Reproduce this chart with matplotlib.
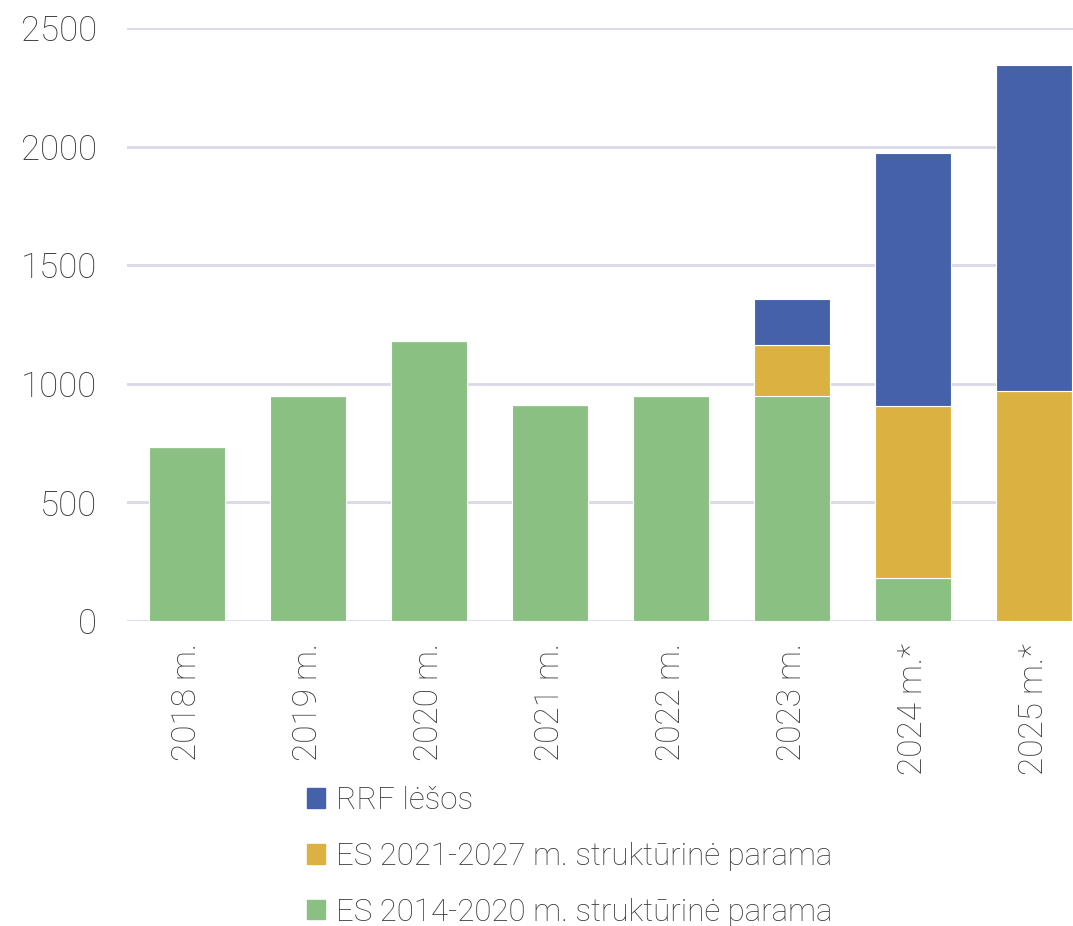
import numpy as np
import matplotlib.pyplot as plt
from matplotlib.patches import Patch

years = ['2018 m.', '2019 m.', '2020 m.', '2021 m.', '2022 m.', '2023 m.', '2024 m.*', '2025 m.*']
es_2014 = [735, 950, 1180, 910, 950, 950, 180, 0]
es_2021 = [0, 0, 0, 0, 0, 213, 725, 970]
rrf = [0, 0, 0, 0, 0, 195, 1068, 1375]

series_names = ['ES 2014-2020 m. struktūrinė parama', 'ES 2021-2027 m. struktūrinė parama', 'RRF lėšos']
colors = ['#8ac081', '#dbb142', '#4561a9']

plt.rcParams['font.family'] = ['Roboto', 'DejaVu Sans']
plt.rcParams['font.weight'] = 'light'
text_color = '#3a3a3a'

fig = plt.figure(figsize=(10.73, 9.26), dpi=100)
W, H = 1073, 926
ax = fig.add_axes([126.5 / W, (H - 621) / H, 968 / W, 593 / H])

x = np.arange(len(years))
bottom = np.zeros(len(years))
for vals, col, name in zip([es_2014, es_2021, rrf], colors, series_names):
    vals = np.array(vals, dtype=float)
    ax.bar(x, vals, width=0.63, bottom=bottom, color=col, edgecolor='white',
           linewidth=0.8, label=name, zorder=3)
    bottom += vals

ax.set_xlim(-0.5, len(years) - 0.5)
ax.set_ylim(0, 2500)
ax.set_yticks([0, 500, 1000, 1500, 2000, 2500])
ax.yaxis.grid(True, color='#d9d9e8', linewidth=2, zorder=0)
ax.set_axisbelow(True)
for s in ax.spines.values():
    s.set_visible(False)

ax.set_xticks(x)
ax.set_xticklabels(years, rotation=90, fontsize=24, color=text_color, fontweight='light')
ax.tick_params(axis='x', length=0, pad=16)
ax.tick_params(axis='y', length=0, pad=21, labelsize=25, labelcolor=text_color)

# legend below the bars, top entry first
handles = [Patch(color=c) for c in colors[::-1]]
fig.legend(handles, series_names[::-1], loc='upper left', bbox_to_anchor=(307 / W, 1 - 786 / H),
           frameon=False, fontsize=22.5, handlelength=0.58, handleheight=0.58,
           handletextpad=0.35, labelspacing=0.86, labelcolor=text_color,
           borderpad=0, borderaxespad=0)

fig.savefig('out.png', dpi=100)
